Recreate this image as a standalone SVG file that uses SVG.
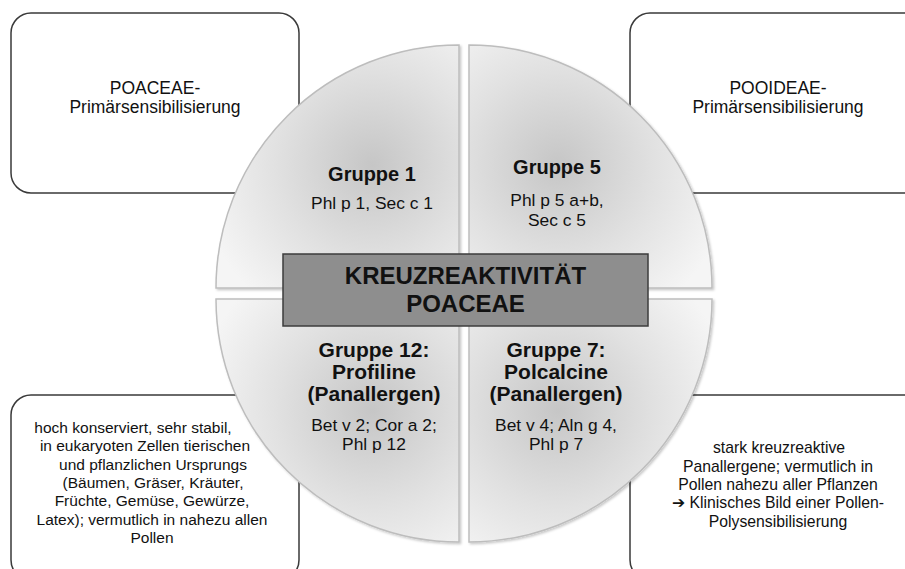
<svg xmlns="http://www.w3.org/2000/svg" width="905" height="569" viewBox="0 0 905 569">
  <style>
    text { font-family: "Liberation Sans", Arial, "DejaVu Sans", sans-serif; fill: #111; text-anchor: middle; }
    .box { fill: #fff; stroke: #3a3a3a; stroke-width: 1.5; }
    .quad { stroke: #bdbdbd; stroke-width: 1.5; filter: url(#shadow); }
    .t-top { font-size: 17.5px; }
    .t-small { font-size: 15.5px; }
    .t-mid { font-size: 15.75px; }
    .g-head { font-size: 20px; font-weight: bold; }
    .g-head2 { font-size: 21px; font-weight: bold; }
    .g-body { font-size: 17.4px; }
    .title { font-size: 24px; font-weight: bold; }
  </style>
  <defs>
    <filter id="shadow" x="-10%" y="-10%" width="120%" height="120%">
      <feDropShadow dx="1.5" dy="1.5" stdDeviation="1.2" flood-color="#000" flood-opacity="0.22"/>
    </filter>
    <radialGradient id="gTL" gradientUnits="userSpaceOnUse" cx="372" cy="165" r="175">
      <stop offset="0" stop-color="#c6c6c6"/>
      <stop offset="0.55" stop-color="#e1e1e1"/>
      <stop offset="1" stop-color="#f5f5f5"/>
    </radialGradient>
    <radialGradient id="gTR" gradientUnits="userSpaceOnUse" cx="558" cy="165" r="175">
      <stop offset="0" stop-color="#c6c6c6"/>
      <stop offset="0.55" stop-color="#e1e1e1"/>
      <stop offset="1" stop-color="#f5f5f5"/>
    </radialGradient>
    <radialGradient id="gBL" gradientUnits="userSpaceOnUse" cx="372" cy="410" r="175">
      <stop offset="0" stop-color="#c6c6c6"/>
      <stop offset="0.55" stop-color="#e1e1e1"/>
      <stop offset="1" stop-color="#f5f5f5"/>
    </radialGradient>
    <radialGradient id="gBR" gradientUnits="userSpaceOnUse" cx="558" cy="410" r="175">
      <stop offset="0" stop-color="#c6c6c6"/>
      <stop offset="0.55" stop-color="#e1e1e1"/>
      <stop offset="1" stop-color="#f5f5f5"/>
    </radialGradient>
  </defs>

  <rect width="905" height="569" fill="#fff"/>

  <!-- outer description boxes -->
  <g id="box-poaceae">
    <rect class="box" x="11" y="13" width="288" height="180" rx="20"/>
    <text class="t-top" x="155" y="94">POACEAE-</text>
    <text class="t-top" x="155" y="113">Primärsensibilisierung</text>
  </g>
  <g id="box-pooideae">
    <rect class="box" x="630" y="13" width="296" height="180" rx="20"/>
    <text class="t-top" x="778" y="94">POOIDEAE-</text>
    <text class="t-top" x="778" y="113">Primärsensibilisierung</text>
  </g>
  <g id="box-profiline">
    <rect class="box" x="11" y="395" width="288" height="185" rx="20"/>
    <g class="t-small">
      <text x="133" y="433">hoch konserviert, sehr stabil,</text>
      <text x="145" y="451">in eukaryoten Zellen tierischen</text>
      <text x="153" y="470">und pflanzlichen Ursprungs</text>
      <text x="153" y="488">(Bäumen, Gräser, Kräuter,</text>
      <text x="152" y="506">Früchte, Gemüse, Gewürze,</text>
      <text x="152" y="525">Latex); vermutlich in nahezu allen</text>
      <text x="152" y="543">Pollen</text>
    </g>
  </g>
  <g id="box-polcalcine">
    <rect class="box" x="630" y="395" width="296" height="185" rx="20"/>
    <g class="t-mid">
      <text x="779" y="453">stark kreuzreaktive</text>
      <text x="778" y="472">Panallergene; vermutlich in</text>
      <text x="778" y="490">Pollen nahezu aller Pflanzen</text>
      <text x="778" y="508">➔ Klinisches Bild einer Pollen-</text>
      <text x="778" y="527">Polysensibilisierung</text>
    </g>
  </g>

  <!-- four quadrants of the circle -->
  <g id="q-gruppe1">
    <path class="quad" fill="url(#gTL)" d="M459,288 L216,288 A243,243 0 0 1 459,45 Z"/>
    <text class="g-head" x="372" y="181">Gruppe 1</text>
    <text class="g-body" x="372" y="209">Phl p 1, Sec c 1</text>
  </g>
  <g id="q-gruppe5">
    <path class="quad" fill="url(#gTR)" d="M469,288 L469,45 A243,243 0 0 1 712,288 Z"/>
    <text class="g-head" x="557" y="174">Gruppe 5</text>
    <text class="g-body" x="557" y="205.5">Phl p 5 a+b,</text>
    <text class="g-body" x="557" y="225.5">Sec c 5</text>
  </g>
  <g id="q-gruppe12">
    <path class="quad" fill="url(#gBL)" d="M459,299 L459,542 A243,243 0 0 1 216,299 Z"/>
    <text class="g-head2" x="374" y="357">Gruppe 12:</text>
    <text class="g-head2" x="374" y="379">Profiline</text>
    <text class="g-head2" x="374" y="401">(Panallergen)</text>
    <text class="g-body" x="374" y="431">Bet v 2; Cor a 2;</text>
    <text class="g-body" x="374" y="450">Phl p 12</text>
  </g>
  <g id="q-gruppe7">
    <path class="quad" fill="url(#gBR)" d="M469,299 L712,299 A243,243 0 0 1 469,542 Z"/>
    <text class="g-head2" x="556" y="357">Gruppe 7:</text>
    <text class="g-head2" x="556" y="379">Polcalcine</text>
    <text class="g-head2" x="556" y="401">(Panallergen)</text>
    <text class="g-body" x="556" y="431">Bet v 4;  Aln g 4,</text>
    <text class="g-body" x="556" y="450">Phl p 7</text>
  </g>

  <!-- central title -->
  <g id="title">
    <rect x="283" y="254" width="365" height="72" fill="#8e8e8e" stroke="#3c3c3c" stroke-width="1.5"/>
    <text class="title" x="465.5" y="284">KREUZREAKTIVITÄT</text>
    <text class="title" x="465.5" y="312">POACEAE</text>
  </g>

  <g id="connectors"/>
</svg>
